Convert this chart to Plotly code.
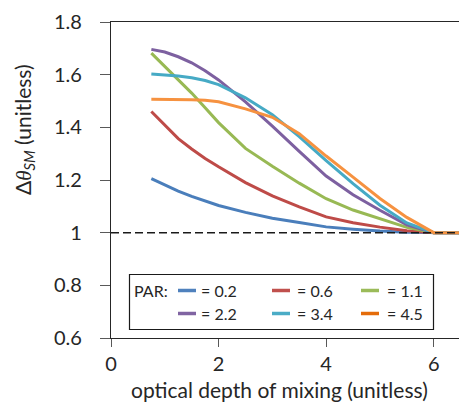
import plotly.graph_objects as go

# optical depth of mixing
depth = [0.75, 1.0, 1.25, 1.5, 1.75, 2.0, 2.5, 3.0, 3.5, 4.0, 4.5, 5.0, 5.5, 6.0, 6.5]

# Δθ_SM for each PAR level
par_labels = ["= 0.2", "= 0.6", "= 1.1", "= 2.2", "= 3.4", "= 4.5"]
par_02 = [1.205, 1.180, 1.158, 1.138, 1.120, 1.103, 1.077, 1.055, 1.039, 1.022, 1.013, 1.006, 1.002, 1.000, 1.000]
par_06 = [1.460, 1.410, 1.357, 1.318, 1.282, 1.250, 1.190, 1.140, 1.098, 1.060, 1.038, 1.021, 1.007, 1.000, 1.000]
par_11 = [1.682, 1.632, 1.583, 1.530, 1.474, 1.418, 1.320, 1.252, 1.188, 1.129, 1.086, 1.053, 1.020, 1.000, 1.000]
par_22 = [1.696, 1.686, 1.668, 1.645, 1.615, 1.580, 1.497, 1.405, 1.309, 1.215, 1.144, 1.085, 1.030, 1.000, 1.000]
par_34 = [1.603, 1.600, 1.595, 1.588, 1.578, 1.562, 1.512, 1.448, 1.365, 1.274, 1.186, 1.104, 1.037, 1.000, 1.000]
par_45 = [1.507, 1.507, 1.506, 1.505, 1.503, 1.497, 1.470, 1.438, 1.376, 1.291, 1.211, 1.130, 1.058, 1.000, 1.000]
series = [par_02, par_06, par_11, par_22, par_34, par_45]
colors = ["#4A7EBB", "#BE4B48", "#98B954", "#7D60A0", "#46AAC5", "#F69240"]
swatch_colors = ["#4F81BD", "#C0504D", "#9BBB59", "#8064A2", "#4BACC6", "#E46C0A"]

x_ticks = [0, 2, 4, 6]
y_ticks = [0.6, 0.8, 1.0, 1.2, 1.4, 1.6, 1.8]
y_tick_text = ["0.6", "0.8", "1", "1.2", "1.4", "1.6", "1.8"]

W, H = 459, 409
ML, MR, MT, MB = 111, 0, 22, 71
PW, PH = W - ML - MR, H - MT - MB
FONT = "Lato"
TXT = "#262626"


def px(xp):
    return (xp - ML) / PW


def py(yp):
    return (H - MB - yp) / PH


fig = go.Figure()
for vals, col, name in zip(series, colors, par_labels):
    fig.add_trace(go.Scatter(x=depth, y=vals, mode="lines", name=name,
                             line=dict(color=col, width=3), showlegend=False))

# reference line at Δθ = 1
fig.add_shape(type="line", xref="paper", yref="y", x0=0, x1=1, y0=1, y1=1,
              line=dict(color="#1a1a1a", width=1.5, dash="8px,4px"), layer="above")

# legend box
fig.add_shape(type="rect", xref="paper", yref="paper",
              x0=px(129.5), x1=px(433.5), y0=py(329.5), y1=py(274.5),
              line=dict(color="#1a1a1a", width=1.2), fillcolor="white", layer="above")
fig.add_annotation(xref="paper", yref="paper", x=px(132), y=py(290.5), text="PAR:",
                   showarrow=False, xanchor="left", yanchor="middle",
                   font=dict(family=FONT, size=16, color=TXT))
col_x = [178, 272, 361]
txt_x = [199, 295, 385]
row_y = [290.5, 313.5]
for i, (lab, sc) in enumerate(zip(par_labels, swatch_colors)):
    r, c = divmod(i, 3)
    fig.add_shape(type="line", xref="paper", yref="paper",
                  x0=px(col_x[c]), x1=px(col_x[c] + 18), y0=py(row_y[r]), y1=py(row_y[r]),
                  line=dict(color=sc, width=3.5), layer="above")
    fig.add_annotation(xref="paper", yref="paper", x=px(txt_x[c]), y=py(row_y[r]), text=lab,
                       showarrow=False, xanchor="left", yanchor="middle",
                       font=dict(family=FONT, size=16, color=TXT))

# axis titles
fig.add_annotation(xref="paper", yref="paper", x=px(279), y=py(389), text="optical depth of mixing (unitless)",
                   showarrow=False, xanchor="center", yanchor="middle",
                   font=dict(family=FONT, size=21, color=TXT))
fig.add_annotation(xref="paper", yref="paper", x=px(24), y=py(130),
                   text="Δ<span style='font-family:Liberation Serif'><i>θ</i></span>"
                        "<sub><i>SM</i></sub> (unitless)",
                   textangle=-90, showarrow=False, xanchor="center", yanchor="middle",
                   font=dict(family=FONT, size=21, color=TXT))

fig.update_xaxes(range=[0, 6.47], tickvals=x_ticks, ticktext=[str(v) for v in x_ticks],
                 showgrid=False, zeroline=False, showline=True, linecolor="#262626", linewidth=1.3,
                 mirror=True, ticks="outside", ticklen=8, tickcolor="#595959", tickwidth=1.3,
                 ticklabelstandoff=0, tickfont=dict(family=FONT, size=20, color=TXT))
fig.update_yaxes(range=[0.6, 1.8], tickvals=y_ticks, ticktext=y_tick_text,
                 showgrid=False, zeroline=False, showline=True, linecolor="#262626", linewidth=1.3,
                 ticks="outside", ticklen=10, tickcolor="#595959", tickwidth=1.3,
                 ticklabelstandoff=14, tickfont=dict(family=FONT, size=20, color=TXT))

fig.update_layout(width=W, height=H, autosize=False,
                  margin=dict(l=ML, r=MR, t=MT, b=MB),
                  paper_bgcolor="white", plot_bgcolor="white", showlegend=False)

fig.write_html("out.html")
